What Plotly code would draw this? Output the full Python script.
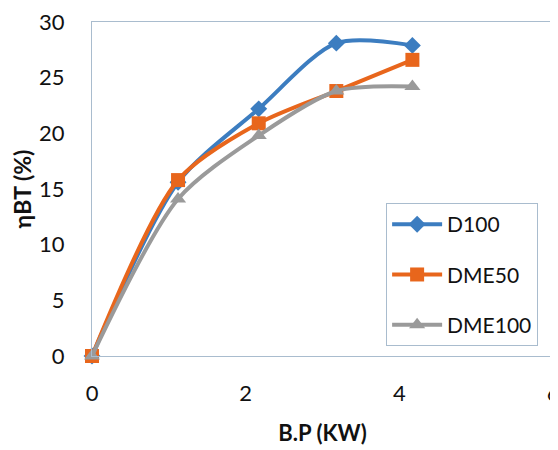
import plotly.graph_objects as go

bp_kw = [0, 1.12, 2.17, 3.18, 4.17]
d100 = [0, 15.6, 22.2, 28.1, 27.9]
dme50 = [0, 15.8, 20.9, 23.8, 26.6]
dme100 = [0, 14.1, 19.8, 23.8, 24.2]

x_ticks = [0, 2, 4, 6]
y_ticks = [0, 5, 10, 15, 20, 25, 30]

series = [
    ("D100", d100, "#3C7DC0", "diamond", 13),
    ("DME50", dme50, "#E8661C", "square", 14),
    ("DME100", dme100, "#9A9A9A", "triangle-up", 14),
]

fig = go.Figure()
for i, (name, ys, col, sym, sz) in enumerate(series):
    fig.add_trace(go.Scatter(
        x=bp_kw, y=ys, name=name, mode="lines+markers",
        line=dict(color=col, width=4, shape="spline", smoothing=0.8),
        marker=dict(symbol=sym, size=sz, color=col),
        cliponaxis=False, legendgroup=name,
    ))

font = "Lato, 'Open Sans', sans-serif"
fig.update_layout(
    width=550, height=442,
    margin=dict(l=84, r=5, t=14, b=94),
    paper_bgcolor="white", plot_bgcolor="white",
    font=dict(family=font, size=22, color="#111111"),
    showlegend=True,
    legend=dict(
        x=0.638, y=0.458, xanchor="left", yanchor="top",
        bordercolor="#A9BCCE", borderwidth=1, bgcolor="white",
        font=dict(size=21, family=font, color="#111111"),
        tracegroupgap=20, itemwidth=50,
    ),
    xaxis=dict(
        range=[0, 6], tickvals=x_ticks, showgrid=False, zeroline=False,
        showline=True, linecolor="#A9BCCE", linewidth=1, mirror=True,
        ticks="", ticklabelstandoff=18, automargin=False,
        ticklabeloverflow="allow",
        title=dict(text="<b>B.P (KW)</b>", font=dict(size=22), standoff=20),
    ),
    yaxis=dict(
        range=[0, 30], tickvals=y_ticks, showgrid=False, zeroline=False,
        showline=True, linecolor="#A9BCCE", linewidth=1, mirror=True,
        ticks="", ticklabelstandoff=22, automargin=False,
        ticklabeloverflow="allow",
        title=dict(text="<b>ηBT (%)</b>", font=dict(size=23), standoff=22),
    ),
)

fig.write_html("out.html")
